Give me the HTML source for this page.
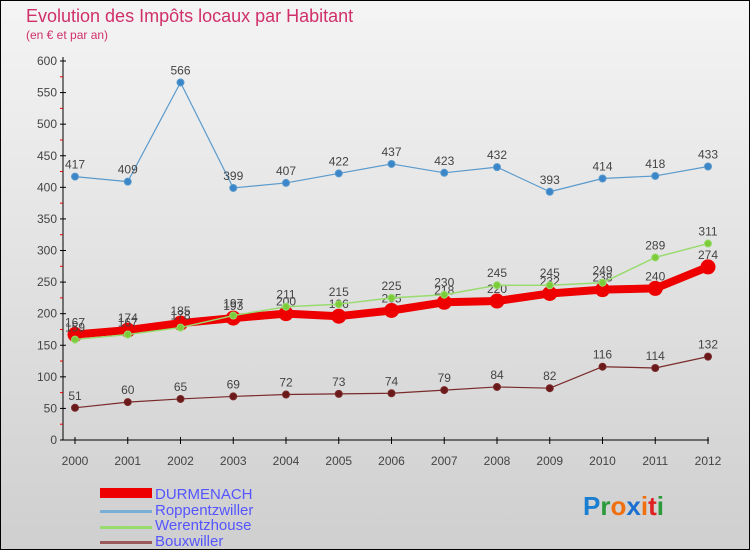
<!DOCTYPE html>
<html><head><meta charset="utf-8"><style>
body{margin:0;width:750px;height:550px;overflow:hidden;font-family:"Liberation Sans",sans-serif}
svg text{font-family:"Liberation Sans",sans-serif}
</style></head><body>
<svg id="c" width="750" height="550" xmlns="http://www.w3.org/2000/svg">
<defs><linearGradient id="bg" x1="0" y1="0" x2="0" y2="1"><stop offset="0" stop-color="#f4f4f4"/><stop offset="1" stop-color="#cfcfcf"/></linearGradient></defs>
<rect x="0.5" y="0.5" width="749" height="549" fill="url(#bg)" stroke="#000"/>
<text x="26" y="22" font-size="18" fill="#d0306a">Evolution des Impôts locaux par Habitant</text>
<text x="26" y="39" font-size="12" fill="#d0306a">(en € et par an)</text>
<g id="axes"></g><g id="series"></g>
<g>
<rect x="100" y="488" width="52" height="10" fill="#e00"/>
<text x="155" y="499" font-size="15" fill="#5555ff">DURMENACH</text>
<rect x="100" y="510" width="52" height="3" fill="#7aaed4"/>
<text x="155" y="515" font-size="15" fill="#5555ff">Roppentzwiller</text>
<rect x="100" y="526" width="52" height="3" fill="#98db6e"/>
<text x="155" y="530" font-size="15" fill="#5555ff">Werentzhouse</text>
<rect x="100" y="541" width="52" height="3" fill="#9a5a5a"/>
<text x="155" y="546" font-size="15" fill="#5555ff">Bouxwiller</text>
</g>
<g font-size="26" font-weight="bold">
<text x="583" y="515"><tspan fill="#1a7fd0">P</tspan><tspan fill="#2a9a3a">r</tspan><tspan fill="#f07010">o</tspan><tspan fill="#1a6fd0">x</tspan><tspan fill="#f07010">i</tspan><tspan fill="#e02020">t</tspan><tspan fill="#2a9a3a">i</tspan></text>
</g>
</svg>
<script>
const years=[2000,2001,2002,2003,2004,2005,2006,2007,2008,2009,2010,2011,2012];
const durmenach=[167,174,185,193,200,196,205,218,220,232,238,240,274];
const roppentzwiller=[417,409,566,399,407,422,437,423,432,393,414,418,433];
const werentzhouse=[159,167,178,197,211,215,225,230,245,245,249,289,311];
const bouxwiller=[51,60,65,69,72,73,74,79,84,82,116,114,132];
const yTicks=[0,50,100,150,200,250,300,350,400,450,500,550,600];
const NS="http://www.w3.org/2000/svg";
function x(i){return 75+i*(708-75)/(years.length-1);}
function y(v){return 440-v*(440-61)/600;}
function mk(t,a,p){const e=document.createElementNS(NS,t);for(const k in a)e.setAttribute(k,a[k]);p.appendChild(e);return e;}
const ax=document.getElementById('axes');
let l=mk('line',{x1:63,y1:57,x2:63,y2:440,stroke:'#000'},ax);


l=mk('line',{x1:63,y1:440,x2:709,y2:440,stroke:'#000'},ax);


yTicks.forEach(v=>{
 mk('line',{x1:60,y1:y(v),x2:66,y2:y(v),stroke:'#000'},ax);
 if(v<600)mk('line',{x1:60,y1:y(v+25),x2:63,y2:y(v+25),stroke:'#e00'},ax);
 const t=mk('text',{x:57,y:y(v)+4,'font-size':12,'text-anchor':'end',fill:'#444'},ax);t.textContent=v;
 
 
});
years.forEach((yr,i)=>{
 mk('line',{x1:x(i),y1:437,x2:x(i),y2:444,stroke:'#000'},ax);
 const t=mk('text',{x:x(i),y:465,'font-size':12,'text-anchor':'middle',fill:'#444'},ax);t.textContent=yr;
 
 
});
const sg=document.getElementById('series');
function draw(name,vals,col,pt,w,r){
 const g=mk('g',{},sg);
 
 
 const pl=mk('polyline',{points:vals.map((v,i)=>x(i)+','+y(v)).join(' '),fill:'none',stroke:col,'stroke-width':w,'stroke-linejoin':'round'},g);
 
 
 vals.forEach((v,i)=>{
  const c=mk('circle',{cx:x(i),cy:y(v),r:r,fill:pt,stroke:col,'stroke-width':1},g);
  
  
  const t=mk('text',{x:x(i),y:y(v)-8,'font-size':12,'text-anchor':'middle',fill:'#444'},g);t.textContent=v;
  
  
 });
}
draw('bouxwiller',bouxwiller,'#7a2a2a','#6a1a1a',1.2,3.5);
draw('roppentzwiller',roppentzwiller,'#5a9acc','#3a86c8',1.2,3.5);
draw('durmenach',durmenach,'#ee0000','#ee0000',8,7);
draw('werentzhouse',werentzhouse,'#98db6e','#7ccc3a',1.5,3.5);
</script>
</body></html>
